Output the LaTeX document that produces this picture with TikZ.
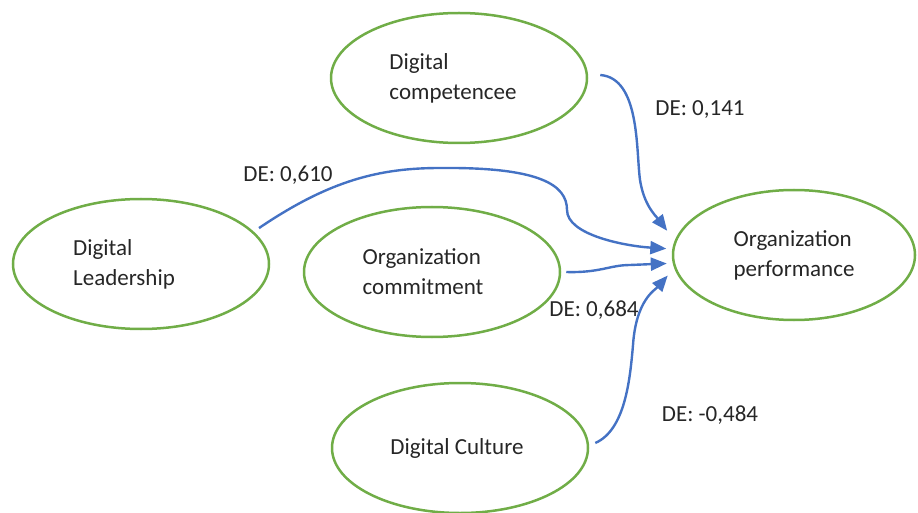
\documentclass[tikz,border=0pt]{standalone}
\usepackage{fontspec}
\setmainfont{Carlito}
\usetikzlibrary{shapes.geometric, arrows.meta, positioning}
\definecolor{ellgreen}{HTML}{70AD47}
\definecolor{arrblue}{HTML}{4472C4}
\definecolor{txtgray}{HTML}{262626}
\tikzstyle{construct} = [
  ellipse, draw=ellgreen, line width=2.5pt,
  minimum width=256pt, minimum height=130pt,
  inner sep=0pt, align=left, text=txtgray
]
\tikzstyle{arrow} = [arrblue, line width=2.4pt, -{Triangle[length=16pt,width=13pt]}]

\begin{document}
\begin{tikzpicture}[x=1pt, y=-1pt, font=\fontsize{23}{30}\selectfont]
\useasboundingbox (0,0) rectangle (918,513);

\tikzstyle{effect} = [text=txtgray, inner sep=0pt]
\tikzstyle{inside} = [text=txtgray, align=left, inner sep=0pt]

% Nodes
\node (comp) [construct, label={[inside, xshift=-6pt]center:{Digital\\competencee}}] at (459,78) {};
\node (lead) [construct, label={[inside, xshift=-17pt]center:{Digital\\Leadership}}] at (141,264) {};
\node (comm) [construct, label={[inside, xshift=-9pt]center:{Organization\\commitment}}] at (432,272) {};
\node (perf) [construct, minimum width=242pt] at (794,255) {Organization\\performance};
\node (cult) [construct, label={[inside, xshift=-3pt]center:{Digital Culture}}] at (460,448) {};

% Effects
\node (dcomp) [effect] at (700,110) {DE: 0,141};
\node (dlead) [effect] at (288,175) {DE: 0,610};
\node (dcomm) [effect] at (594,310) {DE: 0,684};
\node (dcult) [effect] at (710,415) {DE: -0,484};

% Arrows
\draw [arrow] ([xshift=12pt,yshift=3pt]comp.east) .. controls (640,78) and (636,150) .. (640,180) .. controls (644,205) and (655,215) .. ([xshift=-13pt]perf.168);
\draw [arrow] ([shift={(7pt,2pt)}]lead.17) .. controls (330,180) and (380,168) .. (440,168) .. controls (540,167) and (567,185) .. (567,210) .. controls (567,235) and (625,246) .. ([xshift=-6pt]perf.177);
\draw [arrow] ([xshift=5pt]comm.east) .. controls (600,273) and (610,265) .. (630,265) -- ([xshift=-6pt]perf.184);
\draw [arrow] ([shift={(6pt,5pt)}]cult.east) .. controls (625,430) and (630,380) .. (633,345) .. controls (636,300) and (655,290) .. ([xshift=-10pt]perf.190);

\end{tikzpicture}
\end{document}
